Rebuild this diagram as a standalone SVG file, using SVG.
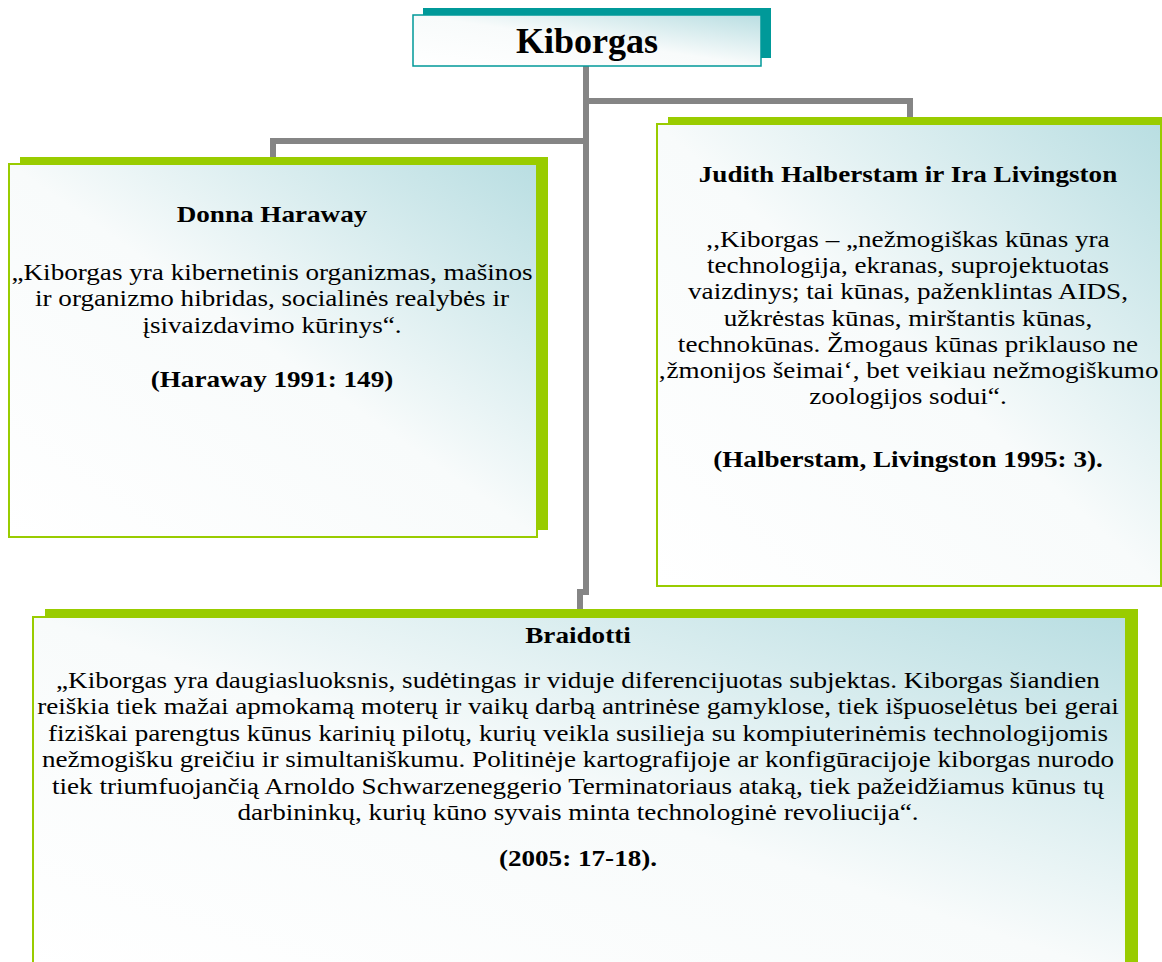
<svg xmlns="http://www.w3.org/2000/svg" width="1162" height="962" viewBox="0 0 1162 962">
<defs>
<linearGradient id="boxFill" x1="0" y1="1" x2="1" y2="0">
<stop offset="0" stop-color="#ffffff"/>
<stop offset="0.5" stop-color="#f8fbfb"/>
<stop offset="1" stop-color="#b9dee2"/>
</linearGradient>
<style>
.shadow-g{fill:#99cc00}
.front-g{fill:url(#boxFill);stroke:#99cc00;stroke-width:2}
.shadow-t{fill:#009999}
.front-t{fill:url(#boxFill);stroke:#009999;stroke-width:1.5}
.conn{fill:none;stroke:#858585;stroke-width:6;stroke-linejoin:miter}
text{font-family:"Liberation Serif","Times New Roman",serif;fill:#000;font-size:23px}
.b{font-weight:bold}
.title{font-size:36px;font-weight:bold}
</style>
</defs>
<rect width="1162" height="962" fill="#ffffff"/>
<g id="connectors">
<path class="conn" d="M586 66 V592 H580 V610"/>
<path class="conn" d="M586 101 H910 V118"/>
<path class="conn" d="M586 141 H273 V158"/>
</g>
<g id="node-kiborgas">
<rect class="shadow-t" x="423" y="8" width="348" height="50"/>
<rect class="front-t" x="413" y="15" width="348" height="51"/>
<text class="title" x="587" y="53" text-anchor="middle">Kiborgas</text>
</g>
<g id="node-haraway">
<rect class="shadow-g" x="20" y="157" width="528" height="373"/>
<rect class="front-g" x="9" y="164" width="528" height="373"/>
<g transform="translate(272,0) scale(1.18,1)" text-anchor="middle">
<text class="b" x="0" y="222">Donna Haraway</text>
<text x="0" y="280">„Kiborgas yra kibernetinis organizmas, mašinos</text>
<text x="0" y="306">ir organizmo hibridas, socialinės realybės ir</text>
<text x="0" y="333">įsivaizdavimo kūrinys“.</text>
<text class="b" x="0" y="387">(Haraway 1991: 149)</text>
</g>
</g>
<g id="node-halberstam">
<rect class="shadow-g" x="668" y="117" width="504" height="462"/>
<rect class="front-g" x="657" y="124" width="504" height="462"/>
<g transform="translate(908,0) scale(1.18,1)" text-anchor="middle">
<text class="b" x="0" y="182">Judith Halberstam ir Ira Livingston</text>
<text x="0" y="247">,,Kiborgas – „nežmogiškas kūnas yra</text>
<text x="0" y="273">technologija, ekranas, suprojektuotas</text>
<text x="0" y="299">vaizdinys; tai kūnas, paženklintas AIDS,</text>
<text x="0" y="326">užkrėstas kūnas, mirštantis kūnas,</text>
<text x="0" y="352">technokūnas. Žmogaus kūnas priklauso ne</text>
<text x="0" y="378">‚žmonijos šeimai‘, bet veikiau nežmogiškumo</text>
<text x="0" y="404">zoologijos sodui“.</text>
<text class="b" x="0" y="467">(Halberstam, Livingston 1995: 3).</text>
</g>
</g>
<g id="node-braidotti">
<rect class="shadow-g" x="45" y="609" width="1093" height="360"/>
<rect class="front-g" x="33" y="617" width="1093" height="360"/>
<g transform="translate(578,0) scale(1.18,1)" text-anchor="middle">
<text class="b" x="0" y="643">Braidotti</text>
<text x="0" y="688">„Kiborgas yra daugiasluoksnis, sudėtingas ir viduje diferencijuotas subjektas. Kiborgas šiandien</text>
<text x="0" y="714">reiškia tiek mažai apmokamą moterų ir vaikų darbą antrinėse gamyklose, tiek išpuoselėtus bei gerai</text>
<text x="0" y="741">fiziškai parengtus kūnus karinių pilotų, kurių veikla susilieja su kompiuterinėmis technologijomis</text>
<text x="0" y="767">nežmogišku greičiu ir simultaniškumu. Politinėje kartografijoje ar konfigūracijoje kiborgas nurodo</text>
<text x="0" y="794">tiek triumfuojančią Arnoldo Schwarzeneggerio Terminatoriaus ataką, tiek pažeidžiamus kūnus tų</text>
<text x="0" y="820">darbininkų, kurių kūno syvais minta technologinė revoliucija“.</text>
<text class="b" x="0" y="866">(2005: 17-18).</text>
</g>
</g>
</svg>
